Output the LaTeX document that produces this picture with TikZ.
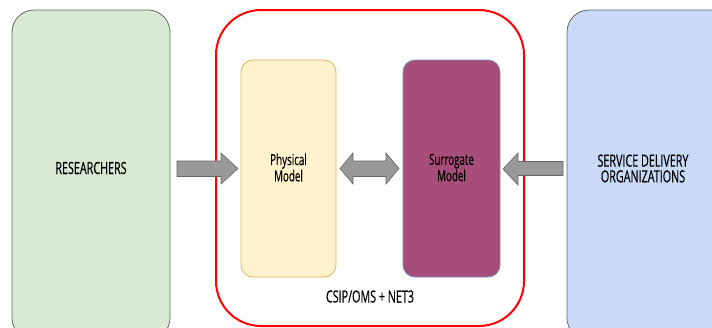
\documentclass[tikz,border=0pt]{standalone}
\usepackage{fontspec}
\setmainfont{Open Sans}[FakeStretch=0.64, FakeBold=0.4]
\definecolor{greenfill}{HTML}{D9EAD3}
\definecolor{bluefill}{HTML}{C9DAF8}
\definecolor{yellowfill}{HTML}{FFF2CC}
\definecolor{yellowline}{HTML}{D6B656}
\definecolor{plumfill}{HTML}{A64D79}
\definecolor{plumline}{HTML}{6C8EBF}
\definecolor{greyline}{HTML}{666666}
\definecolor{arrowfill}{HTML}{999999}
\tikzset{
  outerbox/.style={draw=greyline, line width=0.8pt, rounded corners=22pt},
  modelbox/.style={line width=0.8pt, rounded corners=12pt},
  label/.style={font=\fontsize{16.8}{15.7}\selectfont, align=center, text=black},
  smalllabel/.style={font=\fontsize{15.3}{13.5}\selectfont, align=center, text=black},
  fatarrow/.style={draw=greyline, fill=arrowfill, line width=0.6pt},
}
\begin{document}
\begin{tikzpicture}[x=1pt,y=-1pt]
\useasboundingbox (0,0) rectangle (712,327);
% outer partner boxes
\draw[outerbox, fill=greenfill] (12,10) rectangle (170,340);
\node[label] (res) at (91,168) {RESEARCHERS};
\draw[outerbox, fill=bluefill] (567,10) rectangle (760,340);
\node[label] (sdo) at (643,168.5) {SERVICE DELIVERY\\ORGANIZATIONS};
% framework container
\draw[red, line width=2pt, rounded corners=45pt] (216,10) rectangle (524,326);
\node[label] (net) at (370,296.5) {CSIP/OMS + NET3};
% the two models
\draw[modelbox, draw=yellowline, fill=yellowfill] (241,60) rectangle (336,277);
\node[smalllabel] (phys) at (288.5,167.5) {Physical\\Model};
\draw[modelbox, draw=plumline, fill=plumfill] (403,60) rectangle (500,277);
\node[smalllabel] (sur) at (451.5,167.5) {Surrogate\\Model};
% block arrows
\draw[fatarrow] (177,161) -- (221,161) -- (221,153) -- (238,168.5) -- (221,184) -- (221,176.5) -- (177,176.5) -- cycle;
\draw[fatarrow] (340,168.5) -- (353,153) -- (353,161) -- (386,161) -- (386,153) -- (399,168.5) -- (386,184) -- (386,176.5) -- (353,176.5) -- (353,184) -- cycle;
\draw[fatarrow] (563,161.5) -- (518,161.5) -- (518,153) -- (503,169) -- (518,185) -- (518,175.5) -- (563,175.5) -- cycle;
\end{tikzpicture}
\end{document}
